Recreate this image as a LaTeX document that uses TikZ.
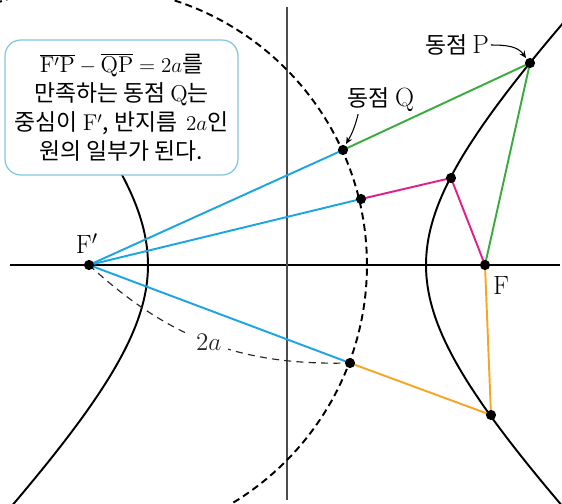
\documentclass[tikz,border=0pt]{standalone}
\usepackage{fontspec}
\newfontfamily\kr{Noto Sans CJK KR}
\usetikzlibrary{arrows.meta, positioning}
\definecolor{lineblue}{RGB}{28,165,226}
\definecolor{linegreen}{RGB}{58,172,62}
\definecolor{linepink}{RGB}{226,32,140}
\definecolor{lineorange}{RGB}{244,166,36}
\definecolor{boxblue}{RGB}{128,196,226}

\begin{document}
\begin{tikzpicture}[
    x=0.02cm, y=-0.02cm,
    axis/.style={line width=0.6pt},
    curve/.style={line width=1.1pt},
    seg/.style={line width=1.1pt},
    note/.style={draw=boxblue, line width=0.7pt, fill=white, rounded corners=9pt,
        minimum width=4.66cm, minimum height=2.7cm, align=center,
        font=\kr\fontsize{13}{16.5}\selectfont},
    lbl/.style={font=\kr\fontsize{13}{15}\selectfont, inner sep=1pt},
    arrow/.style={-{Stealth[length=4pt, width=3.5pt]}, line width=0.6pt}
]
    \useasboundingbox (0,0) rectangle (562,504);
    \clip (0,0) rectangle (562,504);

    % foci and points
    \coordinate (Fp) at (89,265);
    \coordinate (F) at (485,265);
    \coordinate (Q1) at (343,150);
    \coordinate (Q2) at (361,199);
    \coordinate (Q3) at (350,363);
    \coordinate (P1) at (530,63);
    \coordinate (P2) at (451,178);
    \coordinate (P3) at (491,415);

    % axes
    \draw[axis] (10,265) -- (560,265);
    \draw[axis, black!70] (287,7) -- (287,500);

    % hyperbola
    \draw[curve] plot[domain=-1.4:1.5, samples=80, variable=\t]
        ({287+139*cosh(\t)}, {265-141*sinh(\t)});
    \draw[curve] plot[domain=-1.4:1.2, samples=80, variable=\t]
        ({287-139*cosh(\t)}, {265-141*sinh(\t)});

    % circle of radius 2a
    \draw[line width=1.1pt, dash pattern=on 4pt off 2.5pt] (Fp) circle (5.56cm);

    % segments
    \draw[seg, lineblue] (Fp) -- (Q1);
    \draw[seg, lineblue] (Fp) -- (Q2);
    \draw[seg, lineblue] (Fp) -- (Q3);
    \draw[seg, linegreen] (Q1) -- (P1) -- (F);
    \draw[seg, linepink] (Q2) -- (P2) -- (F);
    \draw[seg, lineorange] (Q3) -- (P3) -- (F);

    % 2a
    \draw[black!85, line width=0.65pt, dash pattern=on 4pt off 3pt]
        (Fp) to[bend right=22] node[fill=white, inner sep=4pt, font=\fontsize{14}{16}\selectfont] (len) {$2a$} (Q3);

    \foreach \p in {Fp,F,Q1,Q2,Q3,P1,P2,P3}
        \fill (\p) circle (2.9pt);

    % labels
    \node[font=\fontsize{15}{17}\selectfont] (lblFp) at (87,244) {$\mathrm{F'}$};
    \node[font=\fontsize{15}{17}\selectfont] (lblF) at (501,286) {$\mathrm{F}$};
    \node[lbl] (lblP) at (457,45) {동점 {\fontsize{15}{17}\selectfont$\mathrm{P}$}};
    \node[lbl] (lblQ) at (381,100) {동점 {\fontsize{15}{17}\selectfont$\mathrm{Q}$}};
    \draw[arrow] (lblP.east) to[out=0, in=125] ([shift={(-4,-5)}]P1);
    \draw[arrow] ([xshift=7pt]lblQ.south west) to[bend left=8] ([shift={(3,-6)}]Q1);

    \node[note] (box) at (121.5,107.5) {%
        $\overline{\mathrm{F'P}}-\overline{\mathrm{QP}}=2a$를\\
        만족하는 동점 $\mathrm{Q}$는\\
        중심이 $\mathrm{F'}$, 반지름 \,$2a$인\\
        원의 일부가 된다.};
\end{tikzpicture}
\end{document}
